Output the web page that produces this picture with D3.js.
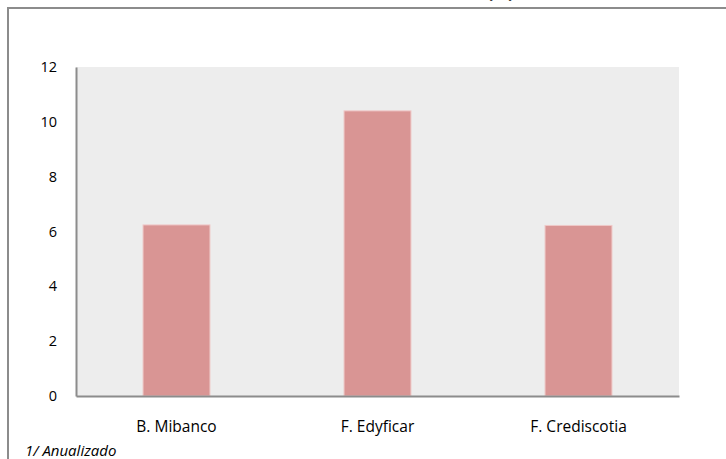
<!DOCTYPE html>
<html><head><meta charset="utf-8">
<script src="https://cdn.jsdelivr.net/npm/d3@7"></script>
<style>body{margin:0;background:#fff;} svg{display:block;}</style>
</head><body>
<svg id="c" width="726" height="459"></svg>
<script>
const categories = ["B. Mibanco", "F. Edyficar", "F. Crediscotia"];
const values = [6.24, 10.40, 6.22];
const yTicks = [0, 2, 4, 6, 8, 10, 12];
const titleText = "(%)";
const footnote = "1/ Anualizado";

const svg = d3.select("#c");
const font = "'Open Sans', 'Noto Sans', sans-serif";
const m = {left: 76, right: 679, top: 67, bottom: 396};

// outer frame
svg.append("path").attr("d", "M8,459 L8,8 L726,8").attr("fill", "none")
  .attr("stroke", "#8c8c8c").attr("stroke-width", 2);
// clipped title (cut off at the top edge, as in the original)
svg.append("text").attr("x", 514).attr("y", -2).attr("text-anchor", "end")
  .attr("font-family", font).attr("font-weight", "bold").attr("font-size", 17)
  .attr("fill", "#000").text(titleText);

const x = d3.scaleBand().domain(categories).range([m.left, m.right]).paddingInner(0.667).paddingOuter(0.3335);
const y = d3.scaleLinear().domain([0, 12]).range([m.bottom, m.top]);

svg.append("rect").attr("x", m.left).attr("y", m.top).attr("width", m.right - m.left)
  .attr("height", m.bottom - m.top).attr("fill", "#ededed");

svg.selectAll("rect.bar").data(values).join("rect").attr("class", "bar")
  .attr("x", (d, i) => x(categories[i])).attr("width", x.bandwidth())
  .attr("y", d => y(d)).attr("height", d => y(0) - y(d))
  .attr("fill", "#d99594").attr("stroke", "#efc9c8").attr("stroke-width", 1);

const yAxis = svg.append("g").attr("transform", `translate(${m.left},0)`)
  .call(d3.axisLeft(y).tickValues(yTicks).tickSize(0).tickPadding(19));
yAxis.select(".domain").attr("stroke", "#8c8c8c").attr("stroke-width", 2);
yAxis.selectAll("text").attr("font-family", font).attr("font-size", 14.5).attr("fill", "#000");

const xAxis = svg.append("g").attr("transform", `translate(0,${m.bottom})`)
  .call(d3.axisBottom(x).tickSize(0).tickPadding(25));
xAxis.select(".domain").attr("stroke", "#8c8c8c").attr("stroke-width", 2);
xAxis.selectAll("text").attr("font-family", font).attr("font-size", 15.5).attr("fill", "#000");

svg.append("text").attr("x", 25).attr("y", 456).attr("font-family", font)
  .attr("font-style", "italic").attr("font-size", 15).attr("fill", "#000").text(footnote);
</script>
</body></html>
